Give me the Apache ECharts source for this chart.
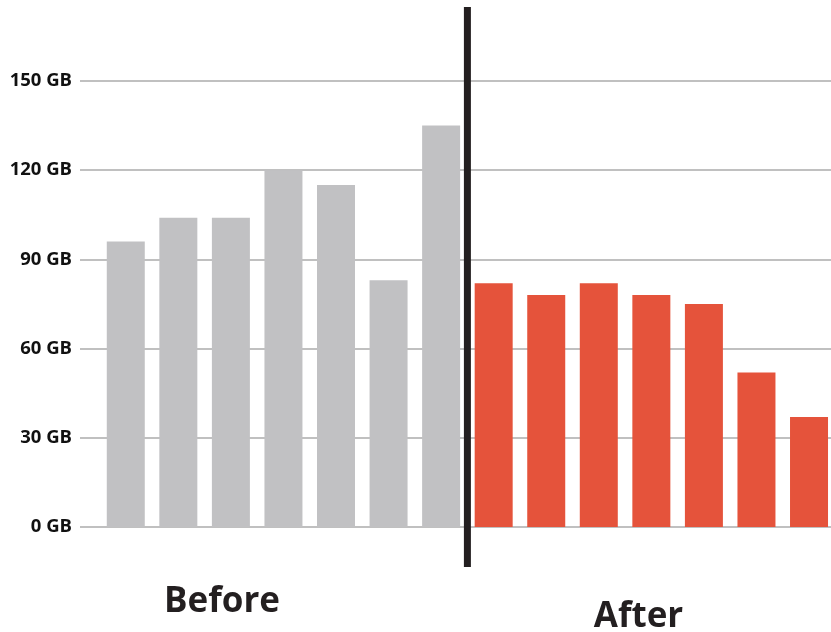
<!DOCTYPE html>
<html>
<head>
<meta charset="utf-8">
<script src="https://cdn.jsdelivr.net/npm/echarts@6/dist/echarts.min.js"></script>
<style>html,body{margin:0;padding:0;background:#fff}#c{width:831px;height:632px}</style>
</head>
<body>
<div id="c"></div>
<script>
const categories = ['B1','B2','B3','B4','B5','B6','B7','A1','A2','A3','A4','A5','A6','A7'];
const beforeValues = [96, 104, 104, 120, 115, 83, 135, null, null, null, null, null, null, null];
const afterValues = [null, null, null, null, null, null, null, 82, 78, 82, 78, 75, 52, 37];
const yTicks = [0, 30, 60, 90, 120, 150];
const groupLabels = ['Before', 'After'];

const chart = echarts.init(document.getElementById('c'), null, {renderer: 'canvas'});
const FONT = '"Open Sans", sans-serif';
chart.setOption({
  animation: false,
  grid: [
    {left: 80, right: 0, top: 81, bottom: 105, outerBoundsMode: 'none'},
    {left: 99.5, right: -4.3, top: 81, bottom: 105, outerBoundsMode: 'none'}
  ],
  xAxis: [
    {gridIndex: 0, type: 'value', show: false, min: 0, max: 1},
    {gridIndex: 1, type: 'category', data: categories, show: false, boundaryGap: true}
  ],
  yAxis: [
    {gridIndex: 0, type: 'value', min: yTicks[0], max: yTicks[yTicks.length-1], interval: 30,
     axisLine: {show: false}, axisTick: {show: false},
     axisLabel: {formatter: v => v + ' GB', color: '#111', fontFamily: FONT, fontWeight: 'bold', fontSize: 18.5, margin: 8},
     splitLine: {lineStyle: {color: '#c0c0c0', width: 2}}},
    {gridIndex: 1, type: 'value', min: 0, max: 150, show: false, splitLine: {show: false}}
  ],
  series: [
    {type: 'bar', xAxisIndex: 1, yAxisIndex: 1, data: beforeValues, barWidth: 38, barGap: '-100%',
     itemStyle: {color: '#c1c1c3'}, z: 3},
    {type: 'bar', xAxisIndex: 1, yAxisIndex: 1, data: afterValues, barWidth: 38,
     itemStyle: {color: '#e5533b'}, z: 3}
  ]
});

const p6 = chart.convertToPixel({xAxisIndex: 1}, categories[6]);
const p7 = chart.convertToPixel({xAxisIndex: 1}, categories[7]);
const divX = (p6 + p7) / 2;
chart.setOption({
  graphic: [
    {type: 'rect', shape: {x: divX - 3.5, y: 7, width: 7, height: 560}, style: {fill: '#231f20'}, z: 10},
    {type: 'text', x: 222, y: 620, style: {text: groupLabels[0], fontFamily: FONT, fontWeight: 'bold', fontSize: 35, fill: '#231f20', textAlign: 'center', textVerticalAlign: 'bottom'}, z: 10},
    {type: 'text', x: 638.5, y: 635, style: {text: groupLabels[1], fontFamily: FONT, fontWeight: 'bold', fontSize: 35, fill: '#231f20', textAlign: 'center', textVerticalAlign: 'bottom'}, z: 10}
  ]
});
</script>
</body>
</html>
